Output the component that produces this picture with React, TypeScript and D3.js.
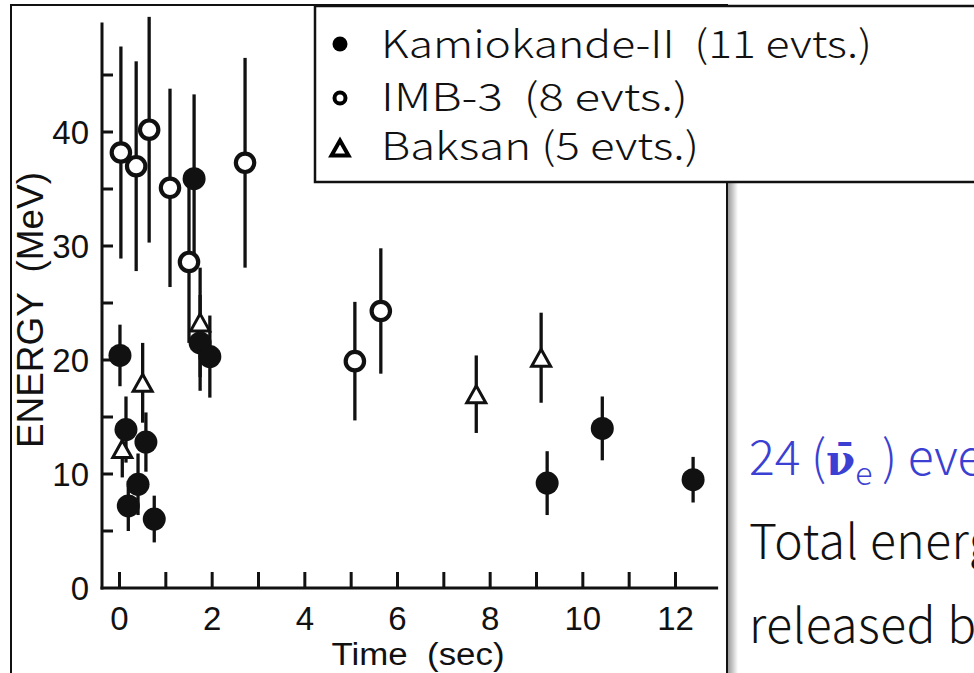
import React from 'react';
import * as d3 from 'd3';

const W = 974;
const H = 673;

// Kamiokande-II (filled circles)
const kamTime = [0.01, 0.14, 0.19, 0.4, 0.57, 0.75, 1.61, 1.74, 1.95, 9.23, 10.42, 12.38];
const kamEnergy = [20.4, 13.9, 7.2, 9.1, 12.8, 6.05, 35.9, 21.5, 20.3, 9.2, 14.0, 9.5];
const kamError = [2.7, 2.9, 2.2, 2.7, 2.6, 2.05, 7.4, 4.2, 3.6, 2.8, 2.8, 2.0];

// IMB-3 (open circles)
const imbTime = [0.03, 0.36, 0.64, 1.09, 1.5, 2.71, 5.08, 5.64];
const imbEnergy = [38.2, 37.0, 40.2, 35.1, 28.6, 37.3, 19.9, 24.3];
const imbError = [9.3, 9.2, 9.9, 8.7, 7.1, 9.2, 5.2, 5.5];

// Baksan (open triangles)
const baksanTime = [0.06, 0.5, 1.74, 7.7, 9.1];
const baksanEnergy = [12.2, 18.0, 23.3, 17.0, 20.2];
const baksanError = [2.5, 3.5, 4.8, 3.4, 3.95];

const xMinorTicks = [0, 1, 2, 3, 4, 5, 6, 7, 8, 9, 10, 11, 12];
const xTickLabels = [0, 2, 4, 6, 8, 10, 12];
const yMinorTicks = [5, 10, 15, 20, 25, 30, 35, 40, 45];
const yTickLabels = [0, 10, 20, 30, 40];

const legendLabels = ['Kamiokande-II  (11 evts.)', 'IMB-3  (8 evts.)', 'Baksan (5 evts.)'];
const xAxisTitle = 'Time  (sec)';
const yAxisTitle = 'ENERGY  (MeV)';

const x = d3.scaleLinear().domain([0, 12]).range([119.5, 675.5]);
const y = d3.scaleLinear().domain([0, 40]).range([588, 132]);

const AX = 102; // y axis x position
const AY = y(0);

const tri = (cx: number, cy: number, w: number, h: number) => {
  const p = d3.path();
  p.moveTo(cx, cy - h / 2);
  p.lineTo(cx + w / 2, cy + h / 2);
  p.lineTo(cx - w / 2, cy + h / 2);
  p.closePath();
  return p.toString();
};

const zip = (t: number[], e: number[], err: number[]) => t.map((v, i) => ({ t: v, e: e[i], err: err[i] }));

export default function App() {
  const kam = zip(kamTime, kamEnergy, kamError);
  const imb = zip(imbTime, imbEnergy, imbError);
  const bak = zip(baksanTime, baksanEnergy, baksanError);
  const all = [...imb, ...bak, ...kam];
  const axisFont = '"Liberation Sans", Arial, sans-serif';
  const jpFont = '"Noto Sans CJK JP", "Noto Sans", sans-serif';
  const pre = { whiteSpace: 'pre' as const };

  return (
    <div style={{ position: 'fixed', left: 0, top: 0, width: W, height: H, background: '#fff' }}>
      <svg width={W} height={H} viewBox={`0 0 ${W} ${H}`} style={{ display: 'block' }}>
        <defs>
          <linearGradient id="shadow" x1="0" x2="1" y1="0" y2="0">
            <stop offset="0" stopColor="#9a9a9a" />
            <stop offset="1" stopColor="#ffffff" />
          </linearGradient>
        </defs>
        <rect x={0} y={0} width={W} height={H} fill="#fff" />
        {/* frame */}
        <rect x={728} y={182} width={10} height={H - 182} fill="url(#shadow)" />
        <rect x={11} y={5} width={716} height={H + 20} fill="none" stroke="#111" strokeWidth={2} />

        {/* axes */}
        <line x1={AX} x2={AX} y1={y(49.6)} y2={AY + 1.5} stroke="#111" strokeWidth={3} />
        <line x1={AX - 1.5} x2={x(12.92)} y1={AY} y2={AY} stroke="#111" strokeWidth={3} />
        {xMinorTicks.map((t) => (
          <line key={'xt' + t} x1={x(t)} x2={x(t)} y1={AY} y2={AY - 16} stroke="#111" strokeWidth={3} />
        ))}
        {yMinorTicks.map((v) => (
          <line key={'yt' + v} x1={AX} x2={AX + 11} y1={y(v)} y2={y(v)} stroke="#111" strokeWidth={3} />
        ))}
        {xTickLabels.map((t) => (
          <text key={'xl' + t} x={x(t)} y={630} textAnchor="middle" fontFamily={axisFont} fontSize={33} fill="#111">
            {t}
          </text>
        ))}
        {yTickLabels.map((v) => (
          <text key={'yl' + v} x={89} y={y(v) + 12} textAnchor="end" fontFamily={axisFont} fontSize={33} fill="#111">
            {v}
          </text>
        ))}
        <text x={418} y={665} textAnchor="middle" fontFamily={axisFont} fontSize={31} fill="#111" textLength={173} lengthAdjust="spacingAndGlyphs" style={pre}>
          {xAxisTitle}
        </text>
        <text
          transform={`translate(43,${(172 + 448) / 2}) rotate(-90)`}
          textAnchor="middle"
          fontFamily={axisFont}
          fontSize={36}
          fill="#111"
          textLength={276}
          lengthAdjust="spacingAndGlyphs"
          style={pre}
        >
          {yAxisTitle}
        </text>

        {/* error bars */}
        {all.map((d, i) => (
          <line key={'eb' + i} x1={x(d.t)} x2={x(d.t)} y1={y(d.e + d.err)} y2={y(d.e - d.err)} stroke="#111" strokeWidth={3.3} />
        ))}
        {/* markers */}
        {imb.map((d, i) => (
          <circle key={'imb' + i} cx={x(d.t)} cy={y(d.e)} r={9.2} fill="#fff" stroke="#111" strokeWidth={4.2} />
        ))}
        {bak.map((d, i) => (
          <path key={'bak' + i} d={tri(x(d.t), y(d.e), 19, 17)} fill="#fff" stroke="#111" strokeWidth={3} strokeLinejoin="miter" />
        ))}
        {kam.map((d, i) => (
          <circle key={'kam' + i} cx={x(d.t)} cy={y(d.e)} r={11.5} fill="#111" />
        ))}

        {/* legend */}
        <rect x={315} y={6} width={700} height={176} fill="#fff" stroke="#111" strokeWidth={2.5} />
        <circle cx={340} cy={44} r={7.5} fill="#000" />
        <circle cx={340} cy={98} r={5.5} fill="#fff" stroke="#000" strokeWidth={4} />
        <path d={tri(340, 148, 17, 15)} fill="#fff" stroke="#000" strokeWidth={4} strokeLinejoin="miter" />
        {legendLabels.map((l, i) => (
          <text
            key={'lg' + i}
            x={381}
            y={[58, 111, 160][i]}
            fontFamily={jpFont}
            fontWeight={300}
            fontSize={38}
            fill="#111"
            textLength={[491, 307, 318][i]}
            lengthAdjust="spacingAndGlyphs"
            style={pre}
          >
            {l}
          </text>
        ))}

        {/* side text */}
        <text x={749} y={475} fontFamily={jpFont} fontWeight={300} fontSize={48} fill="#3b3fd2" style={pre}>
          {'24 ('}
          <tspan fontFamily='"DejaVu Serif", serif' fontWeight={700} fontSize={42}>
            {'\u03BD\u0304'}
          </tspan>
          <tspan fontSize={32} dy={10}>
            e
          </tspan>
          <tspan dy={-10}>{'\u2009) events'}</tspan>
        </text>
        <text x={749} y={559} fontFamily={jpFont} fontWeight={300} fontSize={48} fill="#111" letterSpacing={0.5}>
          Total energy
        </text>
        <text x={749} y={643} fontFamily={jpFont} fontWeight={300} fontSize={48} fill="#111" letterSpacing={0.5}>
          released by
        </text>
      </svg>
    </div>
  );
}
